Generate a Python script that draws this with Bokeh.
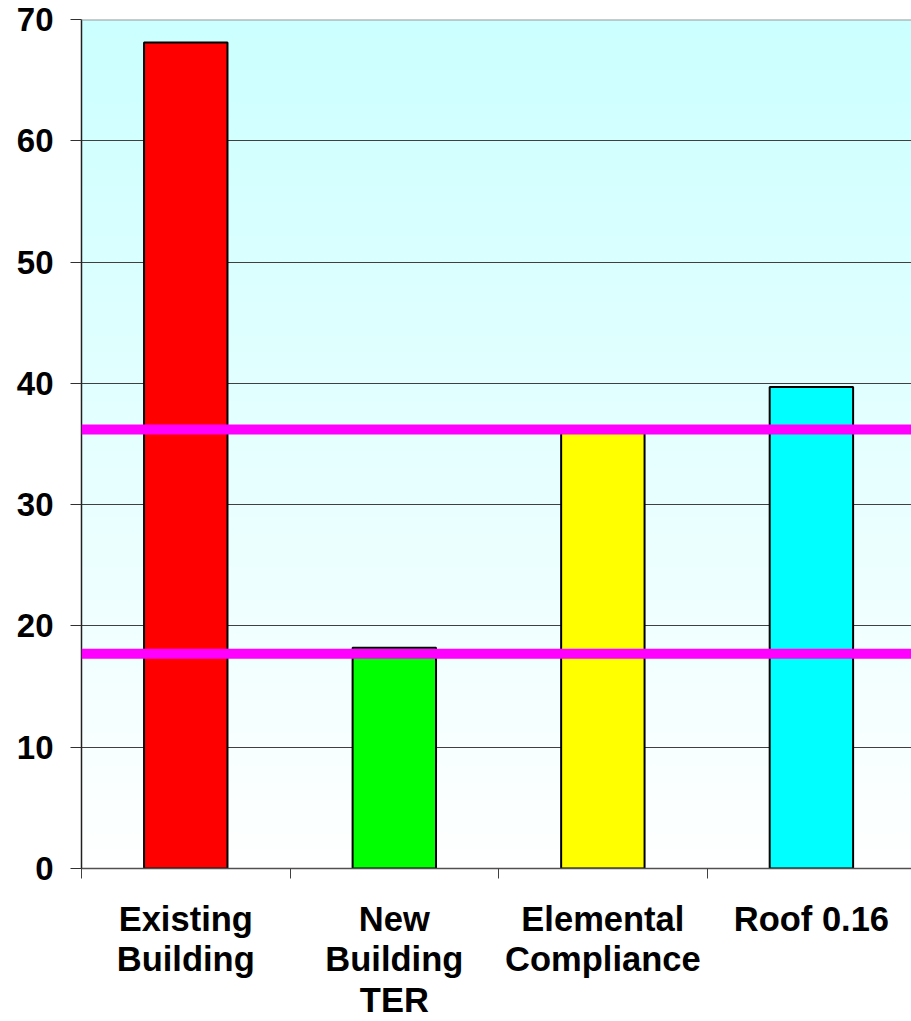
import numpy as np
from bokeh.plotting import figure
from bokeh.models import FixedTicker, Span, Range1d
from bokeh.embed import file_html
from bokeh.resources import INLINE

categories = ["Existing\nBuilding", "New\nBuilding\nTER", "Elemental\nCompliance", "Roof 0.16"]
values = [68.1, 18.2, 36.1, 39.7]
colors = ["#ff0000", "#00ff00", "#ffff00", "#00ffff"]
reference_lines = [36.2, 17.7]
y_ticks = [0, 10, 20, 30, 40, 50, 60, 70]

FONT = "Liberation Sans"
centers = [i + 0.5 for i in range(len(categories))]
boundaries = list(range(len(categories) + 1))

p = figure(width=911, height=1021, x_range=Range1d(0, 3.98), y_range=Range1d(0, 70),
           output_backend="svg", toolbar_location=None,
           min_border_left=81, min_border_right=0, min_border_top=19, min_border_bottom=153,
           background_fill_color="white", border_fill_color="white")
p.outline_line_color = None

# gradient background (light cyan at top fading to white at bottom)
n = 256
t = np.linspace(0, 1, n)
r = (255 - 51 * t).astype(np.uint32)
img = np.zeros((n, 1), dtype=np.uint32)
view = img.view(dtype=np.uint8).reshape((n, 1, 4))
view[:, 0, 0] = r
view[:, 0, 1] = 255
view[:, 0, 2] = 255
view[:, 0, 3] = 255
bg = p.image_rgba(image=[img], x=0, y=0, dw=4, dh=70)
bg.level = "image"

p.vbar(x=centers, top=values, width=0.4, fill_color=colors, line_color="black", line_width=2)

for v in reference_lines:
    p.add_layout(Span(location=v, dimension="width", line_color="#ff00ff", line_width=10))
p.add_layout(Span(location=70, dimension="width", line_color="#9a9a9a", line_width=2))

p.xgrid.visible = False
p.ygrid.ticker = FixedTicker(ticks=y_ticks)
p.ygrid.grid_line_color = "#404040"
p.ygrid.grid_line_width = 1

p.yaxis.ticker = FixedTicker(ticks=y_ticks)
p.yaxis.major_tick_out = 11
p.yaxis.major_tick_in = 0
p.yaxis.minor_tick_line_color = None
p.yaxis.axis_line_color = "#202020"
p.yaxis.axis_line_width = 1.5
p.yaxis.major_tick_line_color = "#303030"
p.yaxis.major_label_standoff = 17
p.yaxis.major_label_text_font = FONT
p.yaxis.major_label_text_font_style = "bold"
p.yaxis.major_label_text_font_size = "33px"
p.yaxis.major_label_text_color = "black"

p.xaxis.ticker = FixedTicker(ticks=centers, minor_ticks=boundaries)
p.xaxis.major_tick_line_color = None
p.xaxis.minor_tick_out = 10
p.xaxis.minor_tick_in = 0
p.xaxis.minor_tick_line_color = "#404040"
p.xaxis.axis_line_color = "#505050"
p.xaxis.axis_line_width = 1.5
p.xaxis.major_label_overrides = {c: lab for c, lab in zip(centers, categories)}
p.xaxis.major_label_standoff = 21
p.xaxis.major_label_text_font = FONT
p.xaxis.major_label_text_font_style = "bold"
p.xaxis.major_label_text_font_size = "34.5px"
p.xaxis.major_label_text_line_height = 1.07
p.xaxis.major_label_text_color = "black"

open("out.html", "w").write(file_html(p, INLINE))
